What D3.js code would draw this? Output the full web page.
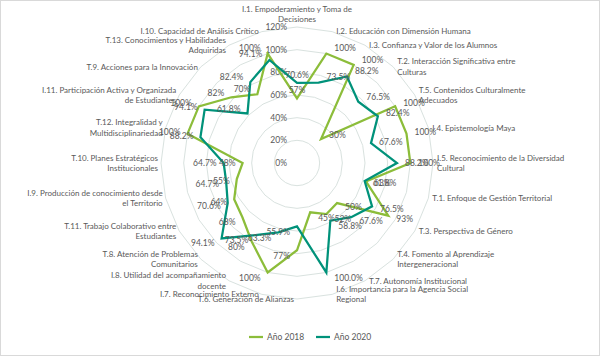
<!DOCTYPE html>
<html><head><meta charset="utf-8">
<script src="https://cdn.jsdelivr.net/npm/d3@7"></script>
<style>body{margin:0;background:#fff} svg text{font-family:Lato, "Noto Sans", sans-serif; fill:#595959}</style>
</head><body><svg id="c" width="600" height="356"></svg>
<script>
const categories = [
  ["I.1. Empoderamiento y Toma de", "Decisiones"],
  ["I.2. Educación con Dimensión Humana"],
  ["I.3. Confianza y Valor de los Alumnos"],
  ["T.2. Interacción Significativa entre", "Culturas"],
  ["T.5. Contenidos Culturalmente", "Adecuados"],
  ["I.4. Epistemología Maya"],
  ["I.5. Reconocimiento de la Diversidad", "Cultural"],
  ["T.1. Enfoque de Gestión Territorial"],
  ["T.3. Perspectiva de Género"],
  ["T.4. Fomento al Aprendizaje", "Intergeneracional"],
  ["T.7. Autonomía Institucional"],
  ["I.6. Importancia para la Agencia Social", "Regional"],
  ["T.6. Generación de Alianzas"],
  ["I.7. Reconocimiento Externo"],
  ["I.8. Utilidad del acompañamiento", "docente"],
  ["T.8. Atención de Problemas", "Comunitarios"],
  ["T.11. Trabajo Colaborativo entre", "Estudiantes"],
  ["I.9. Producción de conocimiento desde", "el Territorio"],
  ["T.10. Planes Estratégicos", "Institucionales"],
  ["T.12. Integralidad y", "Multidisciplinariedad"],
  ["I.11. Participación Activa y Organizada", "de Estudiantes"],
  ["T.9. Acciones para la Innovación"],
  ["T.13. Conocimientos y Habilidades", "Adquiridas"],
  ["I.10. Capacidad de Análisis Crítico"]
];
const values2018 = [57,100,100,30,100,100,100,63,93,50,52,45,77,100,80,68,64,55,48,100,100,82,70,100];
const values2020 = [70.6,73.5,88.2,76.5,82.4,67.6,88.2,61.8,76.5,67.6,58.8,100,55.9,63.3,73.5,94.1,70.6,64.7,64.7,88.2,94.1,61.8,82.4,94.1];
const tickValues = [0,20,40,60,80,100,120];
const seriesNames = ["Año 2018","Año 2020"];
const seriesColors = ["#8cbd3a","#00927a"];

const svg = d3.select("#c");
const W = 600, H = 356;
const cx = 297, cy = 163;
const n = categories.length;
const r = d3.scaleLinear().domain([0,120]).range([0,136]);
const ang = d3.scaleLinear().domain([0,n]).range([0,2*Math.PI]);
const FS = 8;

svg.append("rect").attr("x",0.5).attr("y",0.5).attr("width",W-1).attr("height",H-1)
  .attr("fill","#fff").attr("stroke","#d9d9d9");

const g = svg.append("g").attr("transform",`translate(${cx},${cy})`);
const pt = (i,v)=>[r(v)*Math.sin(ang(i)), -r(v)*Math.cos(ang(i))];

// gridlines
const ringLine = d3.lineRadial().angle((d,i)=>ang(i)).radius(d=>r(d)).curve(d3.curveLinearClosed);
g.selectAll(".ring").data(tickValues.filter(t=>t>0)).join("path")
  .attr("d",t=>ringLine(d3.range(n).map(()=>t)))
  .attr("fill","none").attr("stroke","#d9e2df").attr("stroke-width",1);

// axis tick labels
g.selectAll(".tick").data(tickValues).join("text")
  .attr("x",-10).attr("y",t=>-r(t)).attr("dy","0.35em")
  .attr("text-anchor","end").attr("font-size",FS+0.5).text(t=>t+"%");

// category labels
const lh = 10.5;
categories.forEach((lines,i)=>{
  const a = ang(i);
  const [x,y] = pt(i,120);
  const s = Math.sin(a);
  let anchor, tx, ty0;
  if (i===0){ anchor="middle"; tx=x; ty0 = y-5-(lines.length-1)*lh; }
  else if (s>1e-6){ anchor="start"; tx=x+4; ty0 = y-(lines.length-1)*lh/2; }
  else { anchor="end"; tx=x-3; ty0 = y-(lines.length-1)*lh/2; }
  const t = g.append("text").attr("text-anchor",anchor).attr("font-size",FS);
  lines.forEach((ln,j)=>{
    t.append("tspan").attr("x",tx).attr("y",ty0+j*lh).attr("dy", i===0?"0":"0.35em").text(ln);
  });
});

// series
const series = [values2018, values2020];
const fmt = [v=>d3.format("d")(v)+"%", v=>d3.format(".1f")(v)+"%"];
const line = d3.lineRadial().angle((d,i)=>ang(i)).radius(d=>r(d)).curve(d3.curveLinearClosed);
series.forEach((vals,k)=>{
  g.append("path").attr("d",line(vals)).attr("fill","none")
    .attr("stroke",seriesColors[k]).attr("stroke-width",2.25).attr("stroke-linejoin","miter");
});
series.forEach((vals,k)=>{
  vals.forEach((v,i)=>{
    const a = ang(i);
    const [x,y] = pt(i,v);
    const s = Math.sin(a);
    let anchor, tx;
    if (i===0){ anchor="middle"; tx=x; }
    else if (s>1e-6){ anchor="start"; tx=x+8; }
    else { anchor="end"; tx=x-7; }
    const ty = i===0 ? y-8 : y-6*Math.cos(a);
    g.append("text").attr("x",tx).attr("y",ty).attr("dy","0.35em")
      .attr("text-anchor",anchor).attr("font-size",FS+0.5).text(fmt[k](v));
  });
});

// legend
const lg = svg.append("g").attr("transform","translate(249,337)");
seriesNames.forEach((nm,k)=>{
  const gx = k*67;
  lg.append("line").attr("x1",gx).attr("x2",gx+14).attr("y1",0).attr("y2",0)
    .attr("stroke",seriesColors[k]).attr("stroke-width",2.25);
  lg.append("text").attr("x",gx+18).attr("y",0).attr("dy","0.35em")
    .attr("font-size",FS+0.5).text(nm);
});
</script></body></html>
